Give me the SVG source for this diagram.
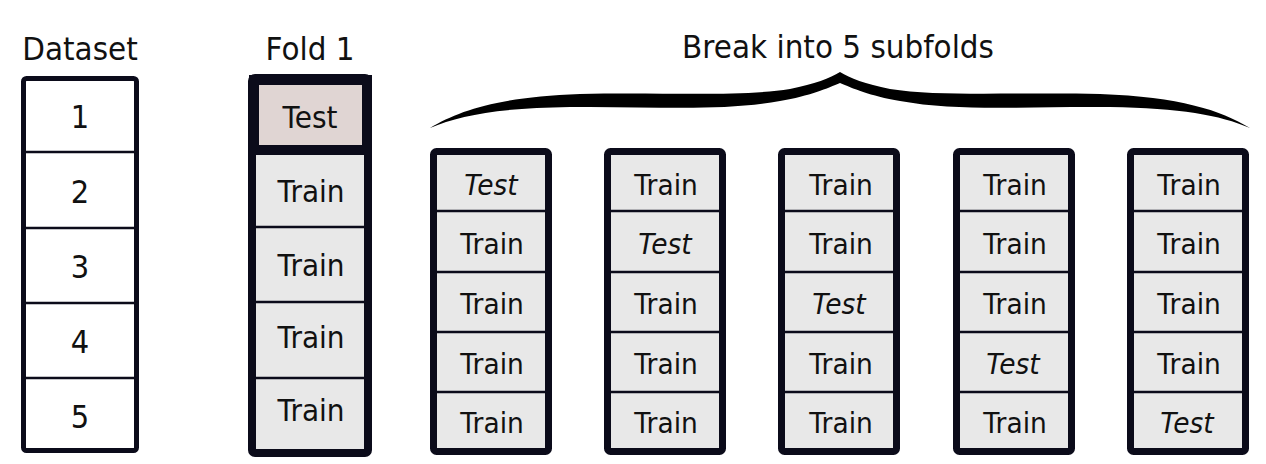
<svg xmlns="http://www.w3.org/2000/svg" width="1266" height="464" viewBox="0 0 1266 464">
<style>
text{font-family:"DejaVu Sans","Liberation Sans",sans-serif;fill:#111;text-anchor:middle}
.t{font-size:29.5px}
.d{font-size:29px}
.f{font-size:28px}
.s{font-size:26.5px}
.i{font-style:italic}
.frame{fill:#e8e8e8;stroke:#0b0b1a;stroke-width:7}
.fold{fill:#e8e8e8;stroke:#0b0b1a;stroke-width:8}
.ds{fill:#fff;stroke:#0b0b1a;stroke-width:5}
.div{stroke:#0b0b1a;stroke-width:2.5}
.testcell{fill:#e0d5d3;stroke:#0b0b1a;stroke-width:10}
.brace{fill:#000}
</style>
<rect width="1266" height="464" fill="#fff"/>
<g id="titles">
<text class="t" transform="translate(80 60) scale(1 1.1)">Dataset</text>
<text class="t" transform="translate(310 60) scale(1 1.1)">Fold 1</text>
<text class="t" transform="translate(838 58) scale(1 1.1)">Break into 5 subfolds</text>
</g>
<g id="connectors">
<path class="brace" d="M430,128 C460,110 500,97 580,94 C660,92 740,97 790,89 C815,84 830,78 840,72 C850,78 865,84 890,89 C940,97 1020,92 1100,94 C1180,97 1220,110 1250,128 C1220,115 1180,108 1110,107 C1030,106 960,112 900,101 C870,96 852,88 840,83 C828,88 810,96 780,101 C720,112 650,106 570,107 C500,108 460,115 430,128 Z"/>
</g>
<g id="dataset">
<rect class="ds" x="23.5" y="78.5" width="113" height="372" rx="3"/>
<line class="div" x1="25" y1="152" x2="135" y2="152"/>
<line class="div" x1="25" y1="228" x2="135" y2="228"/>
<line class="div" x1="25" y1="303" x2="135" y2="303"/>
<line class="div" x1="25" y1="378" x2="135" y2="378"/>
<text class="d" transform="translate(80 128) scale(1 1.1)">1</text>
<text class="d" transform="translate(80 203) scale(1 1.1)">2</text>
<text class="d" transform="translate(80 278) scale(1 1.1)">3</text>
<text class="d" transform="translate(80 353) scale(1 1.1)">4</text>
<text class="d" transform="translate(80 428) scale(1 1.1)">5</text>
</g>
<g id="fold1">
<rect class="fold" x="252" y="78" width="116" height="375" rx="3"/>
<line class="div" x1="256" y1="227" x2="364" y2="227"/>
<line class="div" x1="256" y1="302" x2="364" y2="302"/>
<line class="div" x1="256" y1="378" x2="364" y2="378"/>
<rect class="testcell" x="254" y="80" width="113" height="70"/>
<text class="f" transform="translate(310 128) scale(1 1.1)">Test</text>
<text class="f" transform="translate(311 202) scale(1 1.1)">Train</text>
<text class="f" transform="translate(311 276) scale(1 1.1)">Train</text>
<text class="f" transform="translate(311 348) scale(1 1.1)">Train</text>
<text class="f" transform="translate(311 421) scale(1 1.1)">Train</text>
</g>
<g id="subfold1">
<rect class="frame" x="433.5" y="151.5" width="115" height="300" rx="3"/>
<line class="div" x1="437" y1="211" x2="545" y2="211"/>
<line class="div" x1="437" y1="272" x2="545" y2="272"/>
<line class="div" x1="437" y1="332" x2="545" y2="332"/>
<line class="div" x1="437" y1="392" x2="545" y2="392"/>
<text class="s i" transform="translate(491 195) scale(1 1.1)">Test</text>
<text class="s" transform="translate(492 254) scale(1 1.1)">Train</text>
<text class="s" transform="translate(492 314) scale(1 1.1)">Train</text>
<text class="s" transform="translate(492 374) scale(1 1.1)">Train</text>
<text class="s" transform="translate(492 433) scale(1 1.1)">Train</text>
</g>
<g id="subfold2">
<rect class="frame" x="607.5" y="151.5" width="115" height="300" rx="3"/>
<line class="div" x1="611" y1="211" x2="719" y2="211"/>
<line class="div" x1="611" y1="272" x2="719" y2="272"/>
<line class="div" x1="611" y1="332" x2="719" y2="332"/>
<line class="div" x1="611" y1="392" x2="719" y2="392"/>
<text class="s" transform="translate(666 195) scale(1 1.1)">Train</text>
<text class="s i" transform="translate(665 254) scale(1 1.1)">Test</text>
<text class="s" transform="translate(666 314) scale(1 1.1)">Train</text>
<text class="s" transform="translate(666 374) scale(1 1.1)">Train</text>
<text class="s" transform="translate(666 433) scale(1 1.1)">Train</text>
</g>
<g id="subfold3">
<rect class="frame" x="781.5" y="151.5" width="115" height="300" rx="3"/>
<line class="div" x1="785" y1="211" x2="893" y2="211"/>
<line class="div" x1="785" y1="272" x2="893" y2="272"/>
<line class="div" x1="785" y1="332" x2="893" y2="332"/>
<line class="div" x1="785" y1="392" x2="893" y2="392"/>
<text class="s" transform="translate(841 195) scale(1 1.1)">Train</text>
<text class="s" transform="translate(841 254) scale(1 1.1)">Train</text>
<text class="s i" transform="translate(839 314) scale(1 1.1)">Test</text>
<text class="s" transform="translate(841 374) scale(1 1.1)">Train</text>
<text class="s" transform="translate(841 433) scale(1 1.1)">Train</text>
</g>
<g id="subfold4">
<rect class="frame" x="956.5" y="151.5" width="115" height="300" rx="3"/>
<line class="div" x1="960" y1="211" x2="1068" y2="211"/>
<line class="div" x1="960" y1="272" x2="1068" y2="272"/>
<line class="div" x1="960" y1="332" x2="1068" y2="332"/>
<line class="div" x1="960" y1="392" x2="1068" y2="392"/>
<text class="s" transform="translate(1015 195) scale(1 1.1)">Train</text>
<text class="s" transform="translate(1015 254) scale(1 1.1)">Train</text>
<text class="s" transform="translate(1015 314) scale(1 1.1)">Train</text>
<text class="s i" transform="translate(1013 374) scale(1 1.1)">Test</text>
<text class="s" transform="translate(1015 433) scale(1 1.1)">Train</text>
</g>
<g id="subfold5">
<rect class="frame" x="1130.5" y="151.5" width="115" height="300" rx="3"/>
<line class="div" x1="1134" y1="211" x2="1242" y2="211"/>
<line class="div" x1="1134" y1="272" x2="1242" y2="272"/>
<line class="div" x1="1134" y1="332" x2="1242" y2="332"/>
<line class="div" x1="1134" y1="392" x2="1242" y2="392"/>
<text class="s" transform="translate(1189 195) scale(1 1.1)">Train</text>
<text class="s" transform="translate(1189 254) scale(1 1.1)">Train</text>
<text class="s" transform="translate(1189 314) scale(1 1.1)">Train</text>
<text class="s" transform="translate(1189 374) scale(1 1.1)">Train</text>
<text class="s i" transform="translate(1187 433) scale(1 1.1)">Test</text>
</g>
</svg>
